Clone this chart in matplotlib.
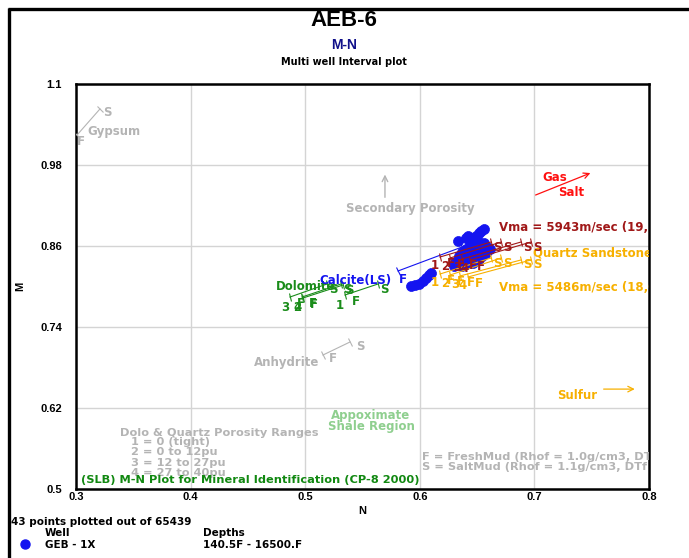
import matplotlib
matplotlib.use("Agg")
import matplotlib.pyplot as plt
from matplotlib.lines import Line2D
from matplotlib.markers import MarkerStyle
from matplotlib.transforms import Affine2D
import numpy as np

plt.rcParams['font.family'] = ['DejaVu Sans']
plt.rcParams['font.weight'] = 'bold'
ARIAL = ['Liberation Sans', 'DejaVu Sans']

# ---- well data (N, M) ----
well_n = [0.6560, 0.6534, 0.6517, 0.6490, 0.6421, 0.6403, 0.6333, 0.6482, 0.6508,
          0.6560, 0.6455, 0.6525, 0.6586, 0.6403, 0.6473, 0.6551, 0.6613, 0.6368,
          0.6438, 0.6508, 0.6578, 0.6342, 0.6412, 0.6482, 0.6543, 0.6377, 0.6447,
          0.6517, 0.6333, 0.6403, 0.6465, 0.6298, 0.6368,
          0.5923, 0.5958, 0.5993, 0.6028, 0.6054, 0.6080, 0.6098,
          0.6307, 0.6438, 0.6499]
well_m = [0.8852, 0.8822, 0.8793, 0.8748, 0.8748, 0.8719, 0.8674, 0.8674, 0.8630,
          0.8644, 0.8600, 0.8585, 0.8585, 0.8556, 0.8541, 0.8541, 0.8556, 0.8511,
          0.8496, 0.8496, 0.8496, 0.8452, 0.8452, 0.8437, 0.8452, 0.8393, 0.8393,
          0.8407, 0.8333, 0.8333, 0.8348, 0.8304, 0.8304,
          0.8007, 0.8022, 0.8037, 0.8081, 0.8126, 0.8170, 0.8200,
          0.8363, 0.8630, 0.8704]

# ---- mineral reference lines: (N_fresh, M_fresh, N_salt, M_salt) ----
gypsum = (0.3009, 1.0244, 0.3209, 1.0630)
anhydrite = (0.5155, 0.6985, 0.5391, 0.7178)
calcite = (0.5810, 0.8230, 0.6368, 0.8585)
dolomite = {
    "1": (0.5347, 0.7874, 0.5635, 0.8037),
    "2": (0.4972, 0.7844, 0.5312, 0.8037),
    "3": (0.4867, 0.7844, 0.5190, 0.8037),
    "4": (0.4981, 0.7830, 0.5330, 0.8022),
}
sand_fast = {  # Vma = 5943 m/s
    "1": (0.6176, 0.8437, 0.6621, 0.8659),
    "2": (0.6264, 0.8422, 0.6709, 0.8659),
    "3": (0.6368, 0.8407, 0.6883, 0.8659),
    "4": (0.6438, 0.8393, 0.6970, 0.8659),
}
sand_slow = {  # Vma = 5486 m/s
    "1": (0.6176, 0.8185, 0.6621, 0.8422),
    "2": (0.6264, 0.8170, 0.6709, 0.8422),
    "3": (0.6351, 0.8156, 0.6883, 0.8393),
    "4": (0.6421, 0.8141, 0.6970, 0.8393),
}
secondary_arrow = (0.5696, 0.928, 0.5696, 0.970)
gas_arrow = (0.6988, 0.934, 0.7511, 0.9696)
sulfur_arrow = (0.758, 0.648, 0.790, 0.648)

porosity_ranges = ["1 = 0 (tight)", "2 = 0 to 12pu", "3 = 12 to 27pu", "4 = 27 to 40pu"]
mud_notes = ["F = FreshMud (Rhof = 1.0g/cm3, DTf = 189us/ft)",
             "S = SaltMud (Rhof = 1.1g/cm3, DTf = 185us/ft)"]

x_ticks = [0.3, 0.4, 0.5, 0.6, 0.7, 0.8]
y_ticks = [0.5, 0.62, 0.74, 0.86, 0.98, 1.1]

GRAY = "#b4b4b4"
DKRED = "#a01818"
ORANGE = "#f7b000"
GREEN = "#1a8c1a"
BLUE = "#1414f0"
FS = 8.5
FS_NOTE = 8.2

fig = plt.figure(figsize=(6.89, 5.58), dpi=100)
ax = fig.add_axes([76 / 689, 1 - 489 / 558, 573 / 689, 405 / 558])
ax.set_xlim(0.3, 0.8)
ax.set_ylim(0.5, 1.1)
ax.set_xticks(x_ticks)
ax.set_yticks(y_ticks)
ax.set_xticklabels([f"{v:g}" for v in x_ticks], fontsize=8, fontweight='bold', family=ARIAL)
ax.set_yticklabels([f"{v:g}" for v in y_ticks], fontsize=8, fontweight='bold', family=ARIAL)
ax.tick_params(axis='x', length=0, pad=2)
ax.tick_params(axis='y', length=0, pad=10)
ax.grid(True, color="#d4d4d4", linewidth=1.0)
ax.set_axisbelow(True)
for s in ax.spines.values():
    s.set_linewidth(1.8)
    s.set_color("black")
ax.set_xlabel("N", fontsize=8, fontweight='bold', labelpad=3, family=ARIAL)
ax.set_ylabel("M", fontsize=8, fontweight='bold', labelpad=11, family=ARIAL)

fig.canvas.draw()


def seg(line, color, fl=None, sl=None, num=None, num_off=(-3.6, -7.2),
        f_off=(7.9, -5), s_off=(4.3, -3.6)):
    n0, m0, n1, m1 = line
    ax.plot([n0, n1], [m0, m1], color=color, lw=0.8, zorder=3)
    p0 = ax.transData.transform((n0, m0))
    p1 = ax.transData.transform((n1, m1))
    ang = np.degrees(np.arctan2(p1[1] - p0[1], p1[0] - p0[0]))
    mk = MarkerStyle('|', transform=Affine2D().rotate_deg(ang))
    ax.plot([n0, n1], [m0, m1], ls='none', marker=mk, ms=6.5, mec=color, mew=0.8, zorder=3)
    for txt, (px, py), off in ((fl, (n0, m0), f_off), (sl, (n1, m1), s_off),
                               (num, (n0, m0), num_off)):
        if txt:
            ax.annotate(txt, (px, py), xytext=off, textcoords='offset points',
                        color=color, fontsize=FS, fontweight='bold',
                        va='center', ha='center', zorder=4)


# gypsum & anhydrite
seg(gypsum, GRAY, fl="F", sl="S", f_off=(2.9, -5), s_off=(5, -2.2))
ax.text(0.3096, 1.029, "Gypsum", color=GRAY, fontsize=FS, ha='left', va='center')
seg(anhydrite, GRAY, fl="F", sl="S", f_off=(7.2, -2.2), s_off=(7.2, -3.6))
ax.text(0.4841, 0.6881, "Anhydrite", color=GRAY, fontsize=FS, ha='center', va='center')

# dolomite family
for k, line in dolomite.items():
    seg(line, GREEN, fl="F", sl="S", num=k)
ax.text(0.5000, 0.7993, "Dolomite", color=GREEN, fontsize=FS, ha='center', va='center')

# calcite
seg(calcite, BLUE, fl="F", f_off=(3.6, -5.8))
ax.text(0.5435, 0.8096, "Calcite(LS)", color=BLUE, fontsize=FS, ha='center', va='center')

# well points (reference lines are drawn over them)
ax.scatter(well_n, well_m, s=52, color=BLUE, edgecolors=BLUE, linewidths=0.5, zorder=2)

# sandstone lines
for k, line in sand_slow.items():
    seg(line, ORANGE, fl="F", sl="S", num=k, num_off=(-3.6, -5.8))
for k, line in sand_fast.items():
    seg(line, DKRED, fl="F", sl="S", num=k, num_off=(-3.6, -5.8))

# arrows
ax.annotate("", xy=secondary_arrow[2:], xytext=secondary_arrow[:2],
            arrowprops=dict(arrowstyle='->', color=GRAY, lw=1.0))
ax.text(0.5914, 0.915, "Secondary Porosity", color=GRAY, fontsize=FS, ha='center', va='center')
ax.annotate("", xy=gas_arrow[2:], xytext=gas_arrow[:2],
            arrowprops=dict(arrowstyle='->', color="#ff1010", lw=0.9))
ax.text(0.718, 0.961, "Gas", color="#ff1010", fontsize=FS, ha='center', va='center')
ax.text(0.732, 0.940, "Salt", color="#ff1010", fontsize=FS, ha='center', va='center')
ax.annotate("", xy=sulfur_arrow[2:], xytext=sulfur_arrow[:2],
            arrowprops=dict(arrowstyle='->', color=ORANGE, lw=0.9))
ax.text(0.737, 0.639, "Sulfur", color=ORANGE, fontsize=FS, ha='center', va='center')

# velocity and matrix labels (clipped at the plot edge)
ax.text(0.669, 0.888, "Vma = 5943m/sec (19,500ft/sec)", color=DKRED, fontsize=FS,
        ha='left', va='center', clip_on=True)
ax.text(0.6988, 0.850, "Quartz Sandstone", color=ORANGE, fontsize=FS,
        ha='left', va='center', clip_on=True)
ax.text(0.669, 0.799, "Vma = 5486m/sec (18,000ft/sec)", color=ORANGE, fontsize=FS,
        ha='left', va='center', clip_on=True)

ax.text(0.5574, 0.6095, "Appoximate", color="#8fcf8f", fontsize=FS, ha='center', va='center')
ax.text(0.5574, 0.5932, "Shale Region", color="#8fcf8f", fontsize=FS, ha='center', va='center')

ax.text(0.3388, 0.5837, "Dolo & Quartz Porosity Ranges", color=GRAY, fontsize=FS_NOTE,
        ha='left', va='center')
for i, txt in enumerate(porosity_ranges):
    ax.text(0.3476, 0.5696 - i * 0.0152, txt, color=GRAY, fontsize=FS_NOTE,
            ha='left', va='center')
for i, txt in enumerate(mud_notes):
    ax.text(0.6020, 0.5474 - i * 0.0148, txt, color=GRAY, fontsize=FS_NOTE,
            ha='left', va='center', clip_on=True)
ax.text(0.3045, 0.5140, "(SLB) M-N Plot for Mineral Identification (CP-8 2000)",
        color="#118811", fontsize=FS_NOTE, ha='left', va='center')

# titles
fig.text(344 / 689, 1 - 20 / 558, "AEB-6", fontsize=16, ha='center', va='center', family=ARIAL)
fig.text(344 / 689, 1 - 45 / 558, "M-N", fontsize=10, color="#10108a", ha='center',
         va='center', family=ARIAL)
fig.text(344 / 689, 1 - 62 / 558, "Multi well Interval plot", fontsize=7, ha='center', va='center')

# legend block
fig.text(11 / 689, 1 - 522 / 558, "43 points plotted out of 65439", fontsize=7.5, ha='left', va='center')
fig.text(45 / 689, 1 - 533 / 558, "Well", fontsize=7.5, ha='left', va='center')
fig.text(203 / 689, 1 - 533 / 558, "Depths", fontsize=7.5, ha='left', va='center')
fig.add_artist(Line2D([25 / 689], [1 - 544 / 558], marker='o', ms=6.5, color=BLUE, ls='none'))
fig.text(45 / 689, 1 - 545 / 558, "GEB - 1X", fontsize=7.5, ha='left', va='center')
fig.text(203 / 689, 1 - 545 / 558, "140.5F - 16500.F", fontsize=7.5, ha='left', va='center')

# outer frame
fig.add_artist(Line2D([8 / 689, 1.0], [1 - 9 / 558, 1 - 9 / 558], color='black', lw=2.4,
                      solid_capstyle='butt'))
fig.add_artist(Line2D([9 / 689, 9 / 689], [0, 1 - 8 / 558], color='black', lw=2.4,
                      solid_capstyle='butt'))

fig.savefig("out.png", dpi=100)
